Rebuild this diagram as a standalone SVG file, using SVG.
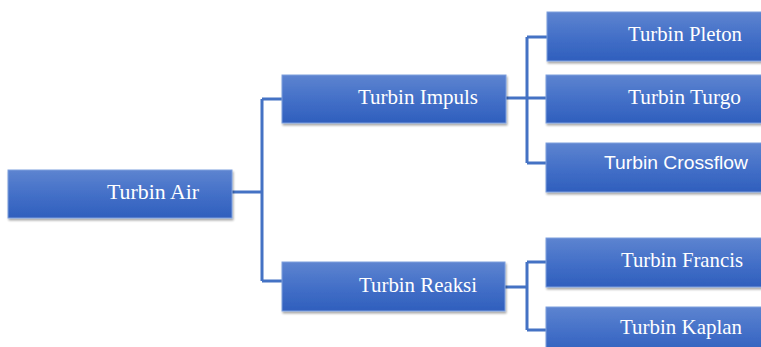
<svg xmlns="http://www.w3.org/2000/svg" width="761" height="347" viewBox="0 0 761 347">
  <defs>
    <linearGradient id="boxFill" x1="0" y1="0" x2="0" y2="1">
      <stop offset="0" stop-color="#5d84d0"/>
      <stop offset="0.5" stop-color="#4470c8"/>
      <stop offset="1" stop-color="#2f5fbd"/>
    </linearGradient>
    <filter id="shadow" x="-5%" y="-10%" width="110%" height="130%">
      <feGaussianBlur in="SourceAlpha" stdDeviation="1"/>
      <feOffset dx="1" dy="1.5" result="b"/>
      <feComponentTransfer><feFuncA type="linear" slope="0.35"/></feComponentTransfer>
      <feMerge><feMergeNode/><feMergeNode in="SourceGraphic"/></feMerge>
    </filter>
  </defs>
  <style>
    .box { fill: url(#boxFill); stroke: #7f9fde; stroke-width: 1; filter: url(#shadow); }
    .lbl { fill: #ffffff; font-family: "Liberation Serif", "Times New Roman", serif; font-size: 21px; }
    .lbl-sans { fill: #ffffff; font-family: "Liberation Sans", Arial, sans-serif; font-size: 19px; }
    .link { fill: none; stroke: #4472c4; stroke-width: 3; }
  </style>
  <rect width="761" height="347" fill="#ffffff"/>

  <g id="connectors">
    <path class="link" d="M232 192 H262 M262 99 V281 M262 99 H282 M262 281 H282"/>
    <path class="link" d="M506 98 H527 M527 37 V163 M527 37 H547 M527 98 H547 M527 163 H547"/>
    <path class="link" d="M505 287 H527 M527 262 V330 M527 262 H547 M527 330 H547"/>
  </g>

  <g id="turbin-air">
    <rect class="box" x="8" y="170" width="224" height="48"/>
    <text class="lbl" x="107" y="199" textLength="92" lengthAdjust="spacingAndGlyphs">Turbin Air</text>
  </g>
  <g id="turbin-impuls">
    <rect class="box" x="282" y="75" width="224" height="48"/>
    <text class="lbl" x="358" y="104" textLength="120" lengthAdjust="spacingAndGlyphs">Turbin Impuls</text>
  </g>
  <g id="turbin-reaksi">
    <rect class="box" x="282" y="262" width="223" height="49"/>
    <text class="lbl" x="359" y="292" textLength="118" lengthAdjust="spacingAndGlyphs">Turbin Reaksi</text>
  </g>
  <g id="turbin-pleton">
    <rect class="box" x="547" y="12" width="224" height="49"/>
    <text class="lbl" x="628" y="41" textLength="114" lengthAdjust="spacingAndGlyphs">Turbin Pleton</text>
  </g>
  <g id="turbin-turgo">
    <rect class="box" x="546" y="75" width="225" height="48"/>
    <text class="lbl" x="628" y="104" textLength="113" lengthAdjust="spacingAndGlyphs">Turbin Turgo</text>
  </g>
  <g id="turbin-crossflow">
    <rect class="box" x="546" y="143" width="225" height="49"/>
    <text class="lbl-sans" x="604" y="169" textLength="144" lengthAdjust="spacingAndGlyphs">Turbin Crossflow</text>
  </g>
  <g id="turbin-francis">
    <rect class="box" x="546" y="238" width="225" height="49"/>
    <text class="lbl" x="621" y="267" textLength="122" lengthAdjust="spacingAndGlyphs">Turbin Francis</text>
  </g>
  <g id="turbin-kaplan">
    <rect class="box" x="546" y="307" width="225" height="49"/>
    <text class="lbl" x="620" y="334" textLength="122" lengthAdjust="spacingAndGlyphs">Turbin Kaplan</text>
  </g>
</svg>
